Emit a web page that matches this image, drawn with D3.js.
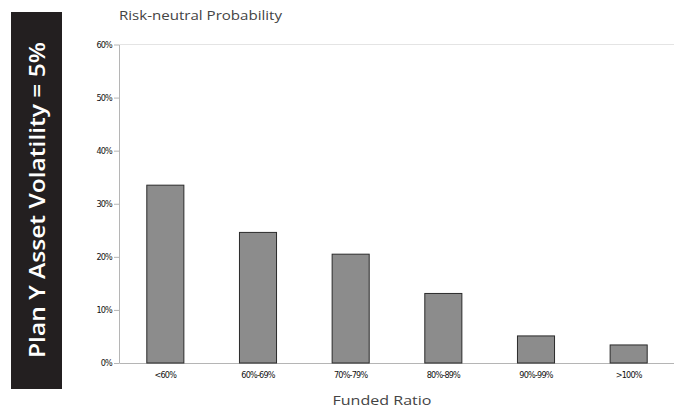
<!DOCTYPE html>
<html>
<head>
<meta charset="utf-8">
<script src="https://cdn.jsdelivr.net/npm/d3@7/dist/d3.min.js"></script>
<style>
  html, body { margin: 0; padding: 0; background: #fff; }
  svg { display: block; }
</style>
</head>
<body>
<svg id="chart" width="674" height="413"></svg>
<script>
// Risk-neutral probability of each funded-ratio bucket
const categories = ["<60%", "60%-69%", "70%-79%", "80%-89%", "90%-99%", ">100%"];
const probabilities = [0.335, 0.246, 0.205, 0.131, 0.051, 0.034];
const yTicks = [0, 0.1, 0.2, 0.3, 0.4, 0.5, 0.6];
const sideTitle = "Plan Y Asset Volatility = 5%";
const yTitle = "Risk-neutral Probability";
const xTitle = "Funded Ratio";

const svg = d3.select("#chart");

const plot = { left: 119, right: 675, top: 44.5, bottom: 363 };

const x = d3.scaleBand()
  .domain(categories)
  .range([plot.left, plot.right])
  .paddingInner(0.6)
  .paddingOuter(0.3);

const y = d3.scaleLinear()
  .domain([0, 0.6])
  .range([plot.bottom, plot.top]);

const tickFont = "'DejaVu Sans Condensed', 'Liberation Sans Narrow', 'Liberation Sans', Arial, sans-serif";
const titleFont = "'Open Sans', Lato, sans-serif";

// Dark side panel with rotated title
svg.append("rect")
  .attr("x", 11).attr("y", 12)
  .attr("width", 51).attr("height", 377)
  .attr("fill", "#231f20");
svg.append("text")
  .attr("transform", "translate(45,200) rotate(-90)")
  .attr("text-anchor", "middle")
  .attr("fill", "#ffffff")
  .attr("textLength", 316)
  .attr("lengthAdjust", "spacingAndGlyphs")
  .style("font-family", titleFont)
  .style("font-size", "22px")
  .style("font-weight", "600")
  .text(sideTitle);

// Top reference line at the maximum of the scale
svg.append("line")
  .attr("x1", plot.left).attr("x2", plot.right)
  .attr("y1", y(0.6)).attr("y2", y(0.6))
  .attr("stroke", "#e4e4e4").attr("stroke-width", 1.2);

// Y axis
const yAxis = svg.append("g")
  .attr("transform", `translate(${plot.left},0)`)
  .call(d3.axisLeft(y).tickValues(yTicks).tickFormat(d3.format(".0%")).tickSize(5).tickSizeOuter(0));
yAxis.select(".domain").attr("stroke", "#b5b5b5");
yAxis.selectAll(".tick line").attr("stroke", "#b5b5b5");
yAxis.selectAll(".tick text")
  .attr("x", -7)
  .attr("fill", "#111")
  .style("font-family", tickFont)
  .style("font-size", "9px")
  .style("letter-spacing", "-0.8px");

// X axis
const xAxis = svg.append("g")
  .attr("transform", `translate(0,${plot.bottom})`)
  .call(d3.axisBottom(x).tickSize(0).tickSizeOuter(0));
xAxis.select(".domain").attr("stroke", "#b5b5b5");
xAxis.selectAll(".tick text")
  .attr("y", 9)
  .attr("fill", "#111")
  .style("font-family", tickFont)
  .style("font-size", "9px")
  .style("letter-spacing", "-0.8px");

// Bars
svg.append("g")
  .selectAll("rect")
  .data(categories.map((c, i) => ({ c, v: probabilities[i] })))
  .join("rect")
  .attr("x", d => x(d.c))
  .attr("y", d => y(d.v))
  .attr("width", x.bandwidth())
  .attr("height", d => y(0) - y(d.v))
  .attr("fill", "#8c8c8c")
  .attr("stroke", "#2b2b2b")
  .attr("stroke-width", 1);

// Axis titles
svg.append("text")
  .attr("x", 119).attr("y", 20)
  .attr("fill", "#444")
  .attr("textLength", 163)
  .attr("lengthAdjust", "spacingAndGlyphs")
  .style("font-family", titleFont)
  .style("font-size", "13px")
  .text(yTitle);
svg.append("text")
  .attr("x", 382).attr("y", 405)
  .attr("text-anchor", "middle")
  .attr("fill", "#444")
  .attr("textLength", 99)
  .attr("lengthAdjust", "spacingAndGlyphs")
  .style("font-family", titleFont)
  .style("font-size", "13.5px")
  .text(xTitle);
</script>
</body>
</html>
